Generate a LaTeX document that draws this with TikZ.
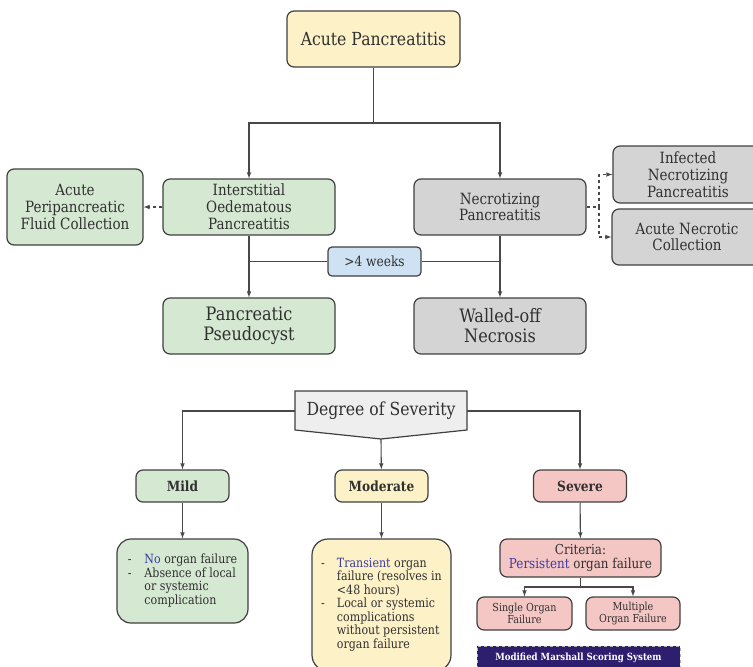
\documentclass[tikz,border=0pt]{standalone}
\usepackage{fontspec}
\setmainfont[FakeStretch=0.87]{DejaVu Serif}

\definecolor{edgecol}{HTML}{404040}
\definecolor{linecol}{HTML}{484848}
\definecolor{txtcol}{HTML}{303030}
\definecolor{yellowbox}{HTML}{FDF1C8}
\definecolor{greenbox}{HTML}{D5E8D2}
\definecolor{graybox}{HTML}{D4D4D4}
\definecolor{bluebox}{HTML}{CFE2F3}
\definecolor{pinkbox}{HTML}{F4C7C5}
\definecolor{sevgray}{HTML}{EEEEEE}
\definecolor{marshall}{HTML}{2E1F6E}
\definecolor{hilite}{HTML}{3B3BA0}
\newcommand{\hl}[1]{\textcolor{hilite}{#1}}

\tikzset{
  box/.style={draw=edgecol, line width=1.2pt, rounded corners=7pt, align=center, text=txtcol, inner sep=2pt},
  bigfont/.style={font=\fontsize{18.5}{20}\selectfont},
  midfont/.style={font=\fontsize{15.5}{16.8}\selectfont},
  bulfont/.style={font=\fontsize{12.7}{13}\selectfont},
  grade/.style={box, minimum width=93, minimum height=32, font=\fontsize{14}{16}\selectfont\bfseries},
  organ/.style={box, fill=pinkbox, minimum width=95, minimum height=33, font=\fontsize{11}{12.3}\selectfont},
  conn/.style={draw=linecol, line width=1.1pt},
}

\begin{document}
\begin{tikzpicture}[x=1pt, y=-1pt, >=latex]
	\useasboundingbox (0,0) rectangle (753,667);
	\clip (0,0) rectangle (753,667);
	
	% classification
	\node[box, fill=yellowbox, minimum width=173, minimum height=56, font=\fontsize{18}{20}\selectfont] (ap) at (373.5,39) {Acute Pancreatitis};
	\node[box, midfont, fill=greenbox, minimum width=172, minimum height=56] (iop) at (249,207) {Interstitial\\Oedematous\\Pancreatitis};
	\node[box, midfont, fill=graybox, minimum width=172, minimum height=56] (np) at (500,207) {Necrotizing\\Pancreatitis};
	\node[box, midfont, fill=greenbox, minimum width=136, minimum height=76] (apfc) at (75,207) {Acute\\Peripancreatic\\Fluid Collection};
	\node[box, midfont, fill=graybox, minimum width=150, minimum height=57] (inp) at (688,174.5) {Infected\\Necrotizing\\Pancreatitis};
	\node[box, midfont, fill=graybox, minimum width=150, minimum height=56] (anc) at (687,237) {Acute Necrotic\\Collection};
	\node[box, fill=bluebox, rounded corners=4pt, minimum width=93, minimum height=29, font=\fontsize{14}{16}\selectfont] (wk) at (374.5,261.5) {>4 weeks};
	\node[box, bigfont, fill=greenbox, minimum width=172, minimum height=56] (pp) at (249,326) {Pancreatic\\Pseudocyst};
	\node[box, bigfont, fill=graybox, minimum width=172, minimum height=56] (wn) at (500,326) {Walled-off\\Necrosis};
	\coordinate (split) at (373.5,123);
	\coordinate (nsplit) at (599,207);
	
	\draw[conn] (ap) -- (split);
	\draw[conn,->] (split) -| (iop);
	\draw[conn,->] (split) -| (np);
	\draw[conn,dashed,->] (iop) -- (apfc);
	\draw[conn,dashed] (np) -- (nsplit);
	\draw[conn,dashed,->] (nsplit) |- (inp);
	\draw[conn,dashed,->] (nsplit) |- (anc);
	\draw[conn,->] (iop) -- (pp);
	\draw[conn,->] (np) -- (wn);
	\draw[conn] (iop |- wk) -- (wk);
	\draw[conn] (wk) -- (np |- wk);
	
	% severity
	\draw[fill=sevgray, draw=edgecol, line width=1.2pt] (295,391) -- (467,391) -- (467,430) -- (381,439) -- (295,430) -- cycle;
	\node[text=txtcol, minimum width=172, minimum height=38, font=\fontsize{18}{20}\selectfont] (sev) at (381,411) {Degree of Severity};
	\coordinate (sevtip) at (381,439);
	\node[grade, fill=greenbox] (mild) at (182.5,486) {Mild};
	\node[grade, fill=yellowbox] (moder) at (381.5,486) {Moderate};
	\node[grade, fill=pinkbox] (sevr) at (580,486) {Severe};
	
	\node[box, bulfont, fill=greenbox, rounded corners=14pt, minimum width=131, minimum height=84] (mildtxt) at (182.5,581) {%
		\begin{tabular}{@{}l@{\hspace{13pt}}l@{}}
		- & \hl{No} organ failure\\
		- & Absence of local\\
		  & or systemic\\
		  & complication
		\end{tabular}};
	\node[box, bulfont, fill=yellowbox, rounded corners=16pt, minimum width=139, minimum height=132] (modtxt) at (381.5,605) {%
		\begin{tabular}{@{}l@{\hspace{12pt}}l@{}}
		- & \hl{Transient} organ\\
		  & failure (resolves in\\
		  & <48 hours)\\
		- & Local or systemic\\
		  & complications\\
		  & without persistent\\
		  & organ failure
		\end{tabular}};
	\node[box, fill=pinkbox, minimum width=161, minimum height=38, font=\fontsize{13.7}{13.5}\selectfont] (crit) at (580.5,558) {Criteria:\\\hl{Persistent} organ failure};
	\coordinate (csplit) at (580.5,587);
	\node[organ] (sof) at (524.5,613.5) {Single Organ\\Failure};
	\node[organ, minimum width=94] (mof) at (633,613.5) {Multiple\\Organ Failure};
	\node[draw=gray!60, dashed, line width=1pt, fill=marshall, text=white, minimum width=203, minimum height=24, font=\fontsize{9.9}{11}\selectfont\bfseries] (mss) at (578.5,658) {Modified Marshall Scoring System};
	
	\draw[conn,->] (sev.west) -| (mild);
	\draw[conn,->] (sev.east) -| (sevr);
	\draw[conn,->] (sevtip) -- (moder);
	\draw[conn,->] (mild) -- (mildtxt);
	\draw[conn,->] (moder) -- (modtxt);
	\draw[conn,->] (sevr) -- (crit);
	\draw[conn] (crit) -- (csplit);
	\draw[conn,->] (csplit) -| (sof);
	\draw[conn,->] (csplit) -| (mof);
\end{tikzpicture}
\end{document}
